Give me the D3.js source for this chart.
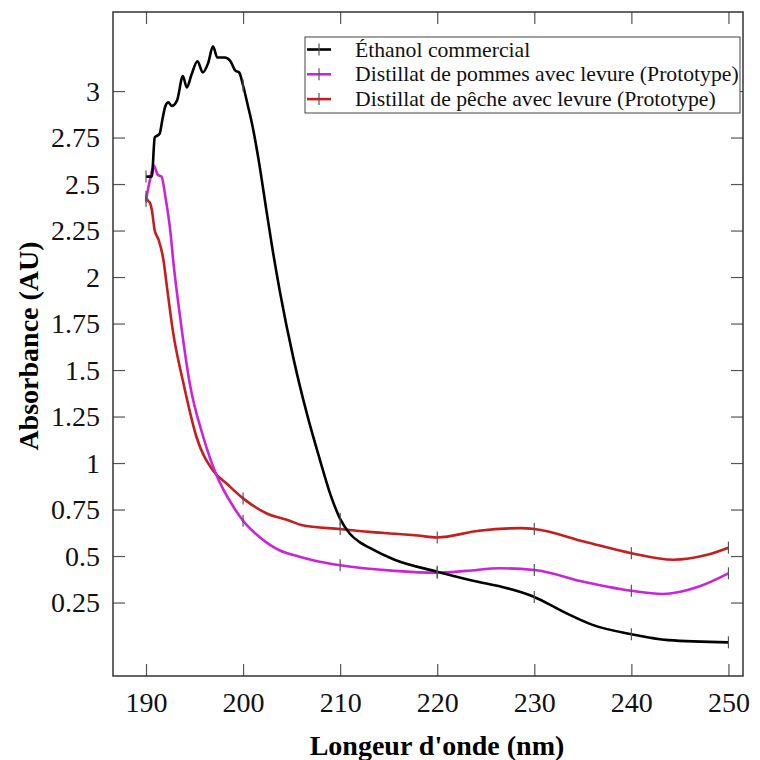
<!DOCTYPE html>
<html>
<head>
<meta charset="utf-8">
<script src="https://cdn.jsdelivr.net/npm/d3@7"></script>
<style>
  body { margin: 0; background: #fff; }
  svg { font-family: "Liberation Serif", "Times New Roman", serif; }
</style>
</head>
<body>
<div id="chart"></div>
<script>
// wavelength (nm), absorbance (AU)
const ethanol = [
  [190, 2.54], [190.6, 2.54], [190.9, 2.75], [191.4, 2.77], [191.7, 2.85], [192.0, 2.92],
  [192.3, 2.94], [192.65, 2.92], [193.2, 2.95], [193.8, 3.08], [194.2, 3.02], [194.7, 3.09],
  [195.3, 3.16], [195.85, 3.10], [196.4, 3.15], [196.9, 3.24], [197.35, 3.18], [198.1, 3.18],
  [198.7, 3.16], [199.2, 3.11], [199.6, 3.10], [200, 3.03], [200.5, 2.92], [200.9, 2.83],
  [201.6, 2.63], [202.4, 2.36], [203, 2.16], [203.8, 1.92], [205.2, 1.56], [206.6, 1.26],
  [207.9, 1.02], [209, 0.83], [210, 0.70], [211, 0.62], [212, 0.575], [213, 0.545], [215.6, 0.48],
  [220, 0.416], [224.3, 0.36], [227, 0.33], [230, 0.28], [233, 0.20], [236, 0.13],
  [240, 0.08], [243.8, 0.048], [250, 0.036]
];
const pommes = [
  [190, 2.41], [190.2, 2.47], [190.4, 2.52], [190.8, 2.60], [191.2, 2.55], [191.6, 2.54],
  [192, 2.43], [192.5, 2.25], [192.8, 2.09], [193.5, 1.79], [194.5, 1.43], [195.9, 1.14],
  [197.3, 0.93], [199, 0.765], [200, 0.69], [201.75, 0.60], [203.8, 0.53], [205.2, 0.505],
  [207, 0.48], [210, 0.45], [215.6, 0.42], [220, 0.41], [223, 0.42], [226.5, 0.434],
  [230, 0.425], [235.2, 0.36], [240, 0.313], [243.2, 0.296], [246.9, 0.335], [250, 0.407]
];
const peche = [
  [190, 2.43], [190.2, 2.41], [190.4, 2.40], [190.6, 2.36], [190.9, 2.25], [191.3, 2.20],
  [191.8, 2.09], [192.1, 1.97], [192.8, 1.70], [193.85, 1.43], [195.2, 1.14], [196.9, 0.96],
  [198.3, 0.89], [200, 0.81], [202.4, 0.73], [204.8, 0.69], [206, 0.667], [210, 0.645],
  [213, 0.63], [215.6, 0.62], [218, 0.61], [220, 0.60], [224.3, 0.636], [228.6, 0.65],
  [230, 0.645], [235.2, 0.577], [240, 0.515], [244.3, 0.48], [247.7, 0.505], [250, 0.545]
];

const seriesNames = ["Éthanol commercial", "Distillat de pommes avec levure (Prototype)", "Distillat de pêche avec levure (Prototype)"];
const seriesColors = ["#000000", "#cc22d8", "#c41e1e"];
const xTicks = [190, 200, 210, 220, 230, 240, 250];
const yTicks = [0.25, 0.5, 0.75, 1, 1.25, 1.5, 1.75, 2, 2.25, 2.5, 2.75, 3];

const W = 760, H = 760;
const mLeft = 113, mRight = 743, mTop = 12, mBottom = 676;
const serif = "'Liberation Serif', 'Times New Roman', serif";

const svg = d3.select("#chart").append("svg").attr("width", W).attr("height", H);

const x = d3.scaleLinear().domain([186.6, 251.5]).range([mLeft, mRight]);
const y = d3.scaleLinear().domain([-0.145, 3.425]).range([mBottom, mTop]);

// axes (ticks pointing inward)
function styleAxis(g){
  g.attr("font-family", serif);
  g.select(".domain").remove();
  g.selectAll(".tick line").attr("stroke", "#555").attr("stroke-width", 1.2);
  g.selectAll(".tick text").attr("font-size", "28px").attr("fill", "#111");
}
svg.append("g").attr("transform", `translate(0,${mBottom})`)
  .call(d3.axisBottom(x).tickValues(xTicks).tickSize(-12).tickPadding(16).tickFormat(d => d))
  .call(styleAxis);
svg.append("g").attr("transform", `translate(0,${mTop})`)
  .call(d3.axisTop(x).tickValues(xTicks).tickSize(-12).tickFormat(""))
  .call(styleAxis);
svg.append("g").attr("transform", `translate(${mLeft},0)`)
  .call(d3.axisLeft(y).tickValues(yTicks).tickSize(-12).tickPadding(13).tickFormat(d => String(d)))
  .call(styleAxis);
svg.append("g").attr("transform", `translate(${mRight},0)`)
  .call(d3.axisRight(y).tickValues(yTicks).tickSize(-12).tickFormat(""))
  .call(styleAxis);

// frame
svg.append("rect")
  .attr("x", mLeft).attr("y", mTop)
  .attr("width", mRight - mLeft).attr("height", mBottom - mTop)
  .attr("fill", "none").attr("stroke", "#333").attr("stroke-width", 1.5);

// lines
const line = d3.line().x(d => x(d[0])).y(d => y(d[1])).curve(d3.curveMonotoneX);
const allSeries = [ethanol, pommes, peche];

// red first, then magenta, black on top
[2, 1, 0].forEach(i => {
  svg.append("path")
    .datum(allSeries[i])
    .attr("d", line)
    .attr("fill", "none")
    .attr("stroke", seriesColors[i])
    .attr("stroke-width", 2.6)
    .attr("stroke-linejoin", "round");
});

// small vertical markers every 10 nm
allSeries.forEach(s => {
  svg.append("g").selectAll("line")
    .data(s.filter(d => d[0] % 10 === 0))
    .enter()
    .append("line")
    .attr("x1", d => x(d[0])).attr("x2", d => x(d[0]))
    .attr("y1", d => y(d[1]) - 6).attr("y2", d => y(d[1]) + 6)
    .attr("stroke", "#555")
    .attr("stroke-width", 1.2);
});

// axis titles
svg.append("text")
  .attr("x", 437).attr("y", 755)
  .attr("text-anchor", "middle")
  .attr("font-size", "28px").attr("font-weight", "bold")
  .text("Longeur d'onde (nm)");
svg.append("text")
  .attr("transform", "translate(38,346) rotate(-90)")
  .attr("text-anchor", "middle")
  .attr("font-size", "28px").attr("font-weight", "bold")
  .text("Absorbance (AU)");

// legend
const legend = svg.append("g");
legend.append("rect")
  .attr("x", 305).attr("y", 37).attr("width", 435).attr("height", 76)
  .attr("fill", "#fff").attr("stroke", "#444").attr("stroke-width", 1);
seriesNames.forEach((name, i) => {
  const ly = 49.5 + i * 24.8;
  legend.append("line")
    .attr("x1", 307).attr("x2", 331).attr("y1", ly).attr("y2", ly)
    .attr("stroke", seriesColors[i]).attr("stroke-width", 2.6);
  legend.append("line")
    .attr("x1", 319).attr("x2", 319).attr("y1", ly - 6).attr("y2", ly + 6)
    .attr("stroke", "#555").attr("stroke-width", 1.2);
  legend.append("text")
    .attr("x", 355).attr("y", ly).attr("dy", "0.33em")
    .attr("font-size", "21.7px").attr("fill", "#111")
    .text(name);
});
</script>
</body>
</html>
